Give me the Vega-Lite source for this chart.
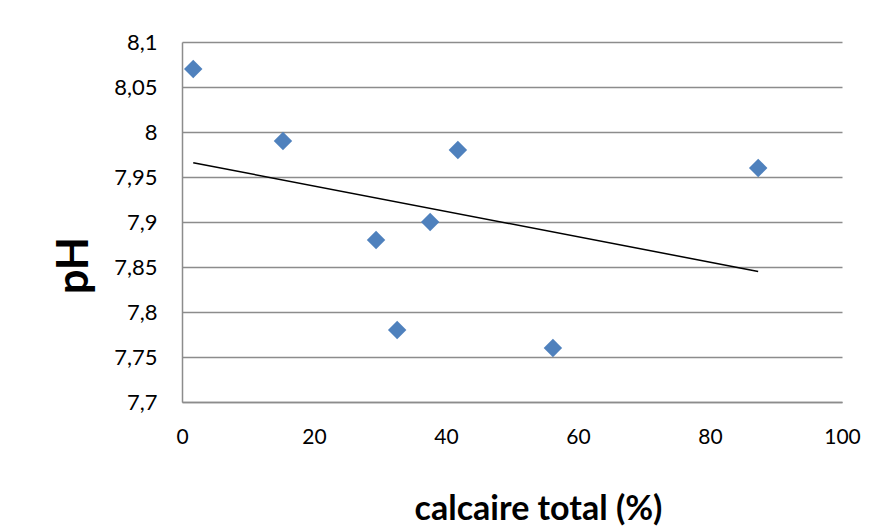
{
  "$schema": "https://vega.github.io/schema/vega-lite/v6.json",
  "width": 660,
  "height": 360,
  "autosize": {"type": "none"},
  "padding": {"left": 182, "top": 42, "right": 36, "bottom": 129},
  "background": "white",
  "config": {
    "font": "Lato",
    "view": {"stroke": null}
  },
  "data": {
    "values": [
      {"calcaire": 1.7, "pH": 8.07},
      {"calcaire": 15.3, "pH": 7.99},
      {"calcaire": 29.4, "pH": 7.88},
      {"calcaire": 32.6, "pH": 7.78},
      {"calcaire": 37.6, "pH": 7.90},
      {"calcaire": 41.8, "pH": 7.98},
      {"calcaire": 56.2, "pH": 7.76},
      {"calcaire": 87.3, "pH": 7.96}
    ]
  },
  "layer": [
    {
      "mark": {"type": "point", "shape": "diamond", "filled": true, "color": "#4F81BD", "opacity": 1, "size": 340},
      "encoding": {
        "x": {
          "field": "calcaire", "type": "quantitative",
          "scale": {"domain": [0, 100], "nice": false, "zero": false},
          "axis": {
            "values": [0, 20, 40, 60, 80, 100],
            "grid": false, "ticks": false,
            "domainColor": "#8c8c8c", "domainWidth": 1.5,
            "labelFont": "Lato", "labelFontSize": 21, "labelColor": "#000000",
            "labelPadding": 24, "labelFlush": false,
            "title": "calcaire total (%)",
            "titleFont": "Lato", "titleFontSize": 34, "titleFontWeight": "bold", "titleColor": "#000000",
            "titleX": 356, "titleY": 117, "titleBaseline": "alphabetic", "titleAlign": "center"
          }
        },
        "y": {
          "field": "pH", "type": "quantitative",
          "scale": {"domain": [7.7, 8.1], "nice": false, "zero": false},
          "axis": {
            "values": [7.7, 7.75, 7.8, 7.85, 7.9, 7.95, 8.0, 8.05, 8.1],
            "labelExpr": "replace(format(datum.value, '.2~f'), '.', ',')",
            "grid": true, "gridColor": "#8c8c8c", "gridWidth": 1.5,
            "ticks": false,
            "domainColor": "#8c8c8c", "domainWidth": 1.5,
            "labelFont": "Lato", "labelFontSize": 22, "labelColor": "#000000",
            "labelPadding": 25,
            "title": "pH",
            "titleFont": "Lato", "titleFontSize": 43, "titleFontWeight": "bold", "titleColor": "#000000",
            "titleAngle": 270, "titleX": -108, "titleY": 223, "titleAlign": "center", "titleBaseline": "middle"
          }
        }
      }
    },
    {
      "transform": [{"regression": "pH", "on": "calcaire"}],
      "mark": {"type": "line", "color": "#000000", "strokeWidth": 1.5},
      "encoding": {
        "x": {"field": "calcaire", "type": "quantitative"},
        "y": {"field": "pH", "type": "quantitative"}
      }
    }
  ]
}
